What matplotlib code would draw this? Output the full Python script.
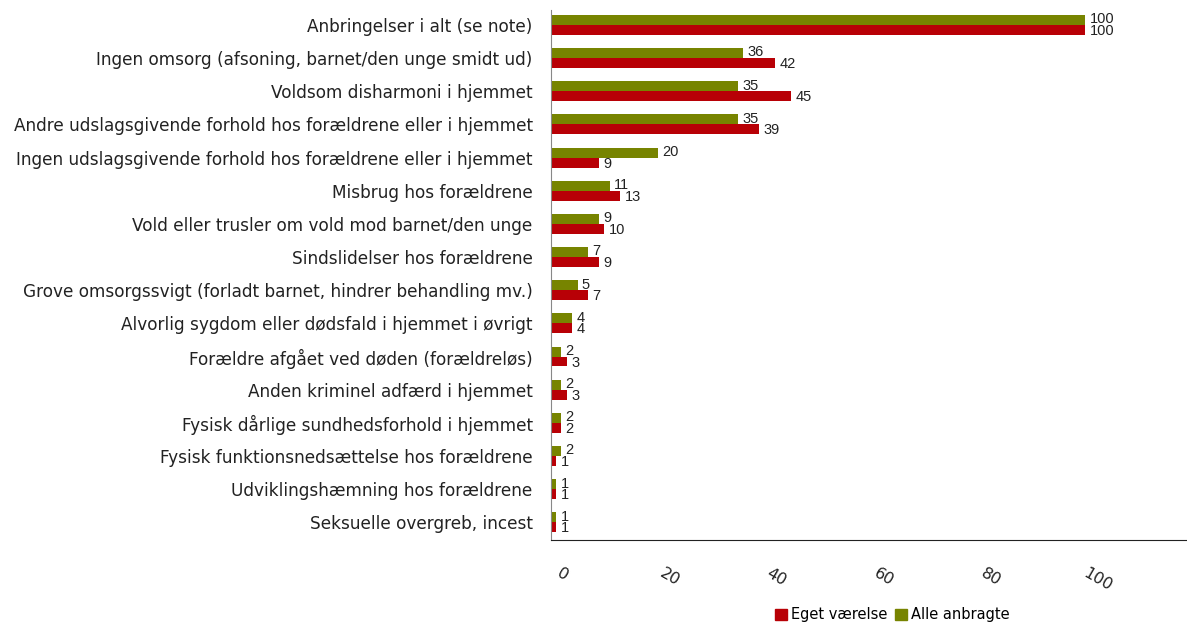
import numpy as np
import matplotlib.transforms as mtransforms
from matplotlib import pyplot as plt
from matplotlib.patches import Patch

categories = [
    "Anbringelser i alt (se note)",
    "Ingen omsorg (afsoning, barnet/den unge smidt ud)",
    "Voldsom disharmoni i hjemmet",
    "Andre udslagsgivende forhold hos forældrene eller i hjemmet",
    "Ingen udslagsgivende forhold hos forældrene eller i hjemmet",
    "Misbrug hos forældrene",
    "Vold eller trusler om vold mod barnet/den unge",
    "Sindslidelser hos forældrene",
    "Grove omsorgssvigt (forladt barnet, hindrer behandling mv.)",
    "Alvorlig sygdom eller dødsfald i hjemmet i øvrigt",
    "Forældre afgået ved døden (forældreløs)",
    "Anden kriminel adfærd i hjemmet",
    "Fysisk dårlige sundhedsforhold i hjemmet",
    "Fysisk funktionsnedsættelse hos forældrene",
    "Udviklingshæmning hos forældrene",
    "Seksuelle overgreb, incest",
]
eget = [100, 42, 45, 39, 9, 13, 10, 9, 7, 4, 3, 3, 2, 1, 1, 1]
alle = [100, 36, 35, 35, 20, 11, 9, 7, 5, 4, 2, 2, 2, 2, 1, 1]
xticks = [0, 20, 40, 60, 80, 100]

RED = "#b80006"
GREEN = "#778400"

fig = plt.figure(figsize=(11.87, 6.26), dpi=100)
ax = fig.add_axes([0.464, 0.137, 0.536, 0.847])

y = np.arange(len(categories))
h = 0.3
ax.barh(y - h / 2, alle, height=h, color=GREEN)
ax.barh(y + h / 2, eget, height=h, color=RED)

for yi, v in zip(y, alle):
    ax.text(v + 0.8, yi - h / 2 - 0.02, str(v), va="center", ha="left",
            fontsize=10.5, family="Liberation Sans", color="#222222")
for yi, v in zip(y, eget):
    ax.text(v + 0.8, yi + h / 2 + 0.03, str(v), va="center", ha="left",
            fontsize=10.5, family="Liberation Sans", color="#222222")

ax.set_ylim(15.54, -0.45)
ax.set_xlim(0, 119)
ax.set_yticks(y)
ax.set_yticklabels(categories, fontsize=12.2, color="#222222")
ax.set_xticks(xticks)
ax.set_xticklabels([str(t) for t in xticks], rotation=-30, fontsize=11.5,
                   color="#222222", ha="center")
ax.tick_params(axis="y", length=0, pad=13)
ax.tick_params(axis="x", length=0, pad=18)
shift = mtransforms.ScaledTranslation(0.12, 0, fig.dpi_scale_trans)
for lab in ax.get_xticklabels():
    lab.set_transform(lab.get_transform() + shift)

for s in ["top", "right"]:
    ax.spines[s].set_visible(False)
ax.spines["left"].set_color("#888888")
ax.spines["bottom"].set_color("#222222")

handles = [Patch(color=RED, label="Eget værelse"),
           Patch(color=GREEN, label="Alle anbragte")]
fig.legend(handles=handles, loc="center", bbox_to_anchor=(0.752, 0.018),
           ncol=2, frameon=False, fontsize=10.5, handlelength=0.8,
           handleheight=0.8, handletextpad=0.3, columnspacing=0.5)

fig.savefig("out.png", dpi=100)
